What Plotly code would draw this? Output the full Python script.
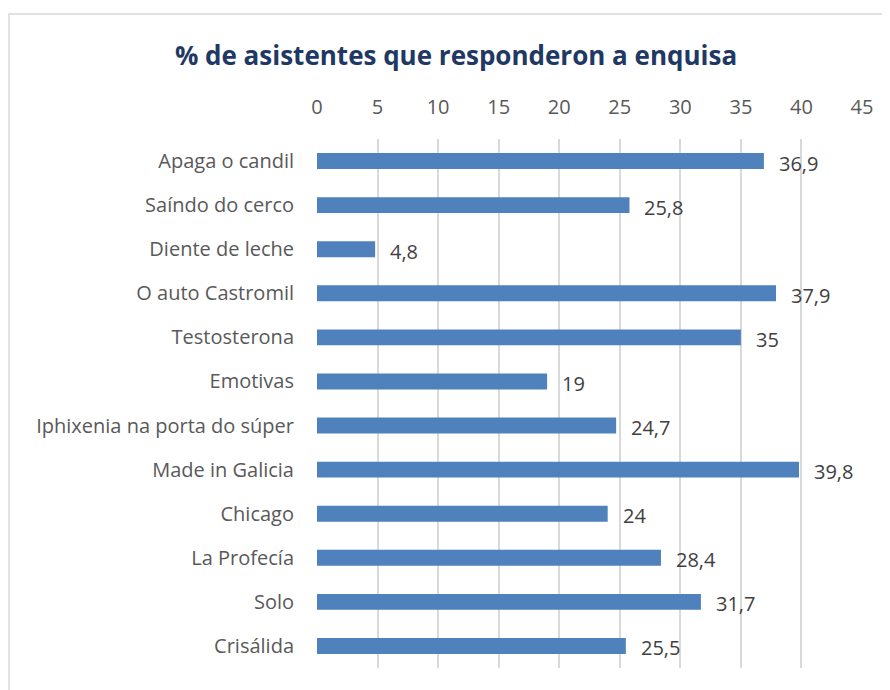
import plotly.graph_objects as go

categories = ["Apaga o candil", "Saíndo do cerco", "Diente de leche", "O auto Castromil",
              "Testosterona", "Emotivas", "Iphixenia na porta do súper", "Made in Galicia",
              "Chicago", "La Profecía", "Solo", "Crisálida"]
values = [36.9, 25.8, 4.8, 37.9, 35, 19, 24.7, 39.8, 24, 28.4, 31.7, 25.5]
tick_values = [0, 5, 10, 15, 20, 25, 30, 35, 40, 45]
title = "% de asistentes que responderon a enquisa"

def fmt(v):
    return ("%g" % v).replace(".", ",")

OFF = 8  # page body margin
W, H = 890 - OFF, 690 - OFF
# page-coordinate targets
PL, PR, PT, PB = 317, 862, 139, 668
L, R, T, B = PL - OFF, W - (PR - OFF), PT - OFF, H - (PB - OFF)
pw, ph = W - L - R, H - T - B

FONT = "Open Sans"
fig = go.Figure()
fig.add_trace(go.Bar(
    y=categories, x=values, orientation="h",
    marker=dict(color="#4F81BD", line=dict(width=0)),
    width=0.36, hoverinfo="skip",
))

for c, v in zip(categories, values):
    fig.add_annotation(x=v, y=c, xref="x", yref="y", text=fmt(v), showarrow=False,
                       xanchor="left", xshift=13, yshift=-2,
                       font=dict(family=FONT, size=20, color="#404040"))

fig.add_shape(type="rect", xref="paper", yref="paper",
              x0=(9 - PL) / pw, x1=(900 - PL) / pw,
              y0=(PB - 720) / ph, y1=(PB - 14) / ph,
              line=dict(color="#D9D9D9", width=1.5), fillcolor="rgba(0,0,0,0)", layer="below")

fig.update_layout(
    width=W, height=H,
    margin=dict(l=L, r=R, t=T, b=B, pad=0),
    paper_bgcolor="white", plot_bgcolor="white",
    showlegend=False,
    title=dict(text="<b>" + title + "</b>", x=(456 - OFF) / W, xanchor="center",
               y=1 - (56 - OFF) / H, yanchor="middle",
               font=dict(family=FONT, size=26, color="#1F3864")),
    xaxis=dict(side="top", range=[0, 45], tickvals=tick_values, ticktext=[str(t) for t in tick_values],
               showgrid=True, gridcolor="#D9D9D9", gridwidth=1.5, zeroline=False,
               ticks="outside", ticklen=16, tickcolor="rgba(0,0,0,0)",
               tickfont=dict(family=FONT, size=20, color="#595959"), showline=False, fixedrange=True),
    yaxis=dict(autorange="reversed", showgrid=False, zeroline=False, showline=False,
               ticks="outside", ticklen=18, tickcolor="rgba(0,0,0,0)",
               tickfont=dict(family=FONT, size=20, color="#595959")),
    bargap=0.6,
)

fig.write_html("out.html")
